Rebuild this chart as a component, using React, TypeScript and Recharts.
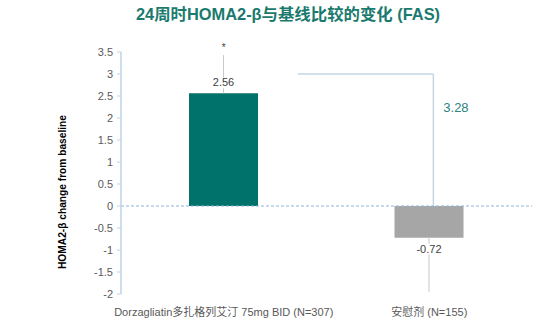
import React from 'react';
import {
  ComposedChart,
  Bar,
  XAxis,
  YAxis,
  ReferenceLine,
  ReferenceDot,
  ErrorBar,
  LabelList,
  Cell,
  Label,
} from 'recharts';

const categories = ['Dorzagliatin多扎格列艾汀 75mg BID (N=307)', '安慰剂 (N=155)'];
const categoryPositions = [0.5, 1.5];
const changes = [2.56, -0.72];
const errorLow = [0, 1.23];
const errorHigh = [0.87, 0];
const barColors = ['#00726C', '#A6A6A6'];
const yTicks = [-2, -1.5, -1, -0.5, 0, 0.5, 1, 1.5, 2, 2.5, 3, 3.5];
const starPositions = [0.5];
const starValues = [3.66];
const bracketLevel = 3.0;
const bracketStart = 0.86;
const bracketEnd = 1.52;
const diffText = '3.28';
const diffPos = [1.63, 2.23];
const titleText = '24周时HOMA2-β与基线比较的变化 (FAS)';
const yLabelText = 'HOMA2-β change from baseline';

const data = categories.map((c, i) => ({
  name: c,
  pos: categoryPositions[i],
  value: changes[i],
  err: [errorLow[i], errorHigh[i]],
}));

const FONT = '"Liberation Sans", Arial, "Noto Sans CJK SC", sans-serif';

const XTick = (props: any) => {
  const { x, y, payload } = props;
  const idx = categoryPositions.indexOf(payload.value);
  return (
    <text x={x} y={y + 22} textAnchor="middle" fontSize={11} fill="#595959" fontFamily={FONT}>
      {idx >= 0 ? categories[idx] : ''}
    </text>
  );
};

const ValueLabel = (props: any) => {
  const { x, y, width, height, value } = props;
  const top = Math.min(y, y + height);
  const bottom = Math.max(y, y + height);
  const cx = x + width / 2;
  const ty = value >= 0 ? top - 7 : bottom + 15;
  const w = String(value).length * 6 + 2;
  return (
    <g>
      <rect x={cx - w / 2} y={ty - 9} width={w} height={11} fill="#fff" />
      <text x={cx} y={ty} textAnchor="middle" fontSize={11} fill="#404040" fontFamily={FONT}>
        {value}
      </text>
    </g>
  );
};

const StarShape = (props: any) => (
  <text x={props.cx} y={props.cy + 6} textAnchor="middle" fontSize={10} fill="#404040" fontFamily={FONT}>
    *
  </text>
);

const YLabel = () => {
  const cx = 62;
  const cy = 192;
  return (
    <text
      x={cx}
      y={cy}
      transform={`rotate(-90 ${cx} ${cy})`}
      textAnchor="middle"
      dominantBaseline="central"
      fontSize={10.2}
      fontWeight="bold"
      fill="#000"
      fontFamily={FONT}
    >
      {yLabelText}
    </text>
  );
};

export default function App() {
  return (
    <div style={{ position: 'absolute', left: 0, top: 0, width: 554, height: 328, background: '#fff' }}>
      <div
        style={{
          position: 'absolute',
          left: 0,
          top: 4,
          width: 576,
          textAlign: 'center',
          fontFamily: FONT,
          fontWeight: 'bold',
          fontSize: 16.4,
          color: '#1B7A6E',
          lineHeight: '20px',
        }}
      >
        {titleText}
      </div>
      <ComposedChart
        width={554}
        height={328}
        data={data}
        margin={{ top: 52, right: 22, bottom: 0, left: 0 }}
      >
        <XAxis
          dataKey="pos"
          type="number"
          domain={[0, 2]}
          ticks={categoryPositions}
          allowDataOverflow
          axisLine={false}
          tickLine={false}
          tickSize={0}
          tickMargin={0}
          tick={<XTick />}
          height={34}
          interval={0}
        />
        <YAxis
          domain={[-2, 3.5]}
          ticks={yTicks}
          width={121}
          interval={0}
          tick={{ fontSize: 11, fill: '#595959', fontFamily: FONT }}
          tickSize={4}
          tickMargin={4}
          axisLine={{ stroke: '#BDD3E8', strokeWidth: 1.5 }}
          tickLine={{ stroke: '#BDD3E8' }}
          allowDataOverflow
        >
          <Label content={<YLabel />} />
        </YAxis>
        <ReferenceLine
          segment={[
            { x: bracketEnd, y: bracketLevel },
            { x: bracketEnd, y: 0 },
          ]}
          stroke="#C5D6E6"
          strokeWidth={1.5}
        />
        <ReferenceLine
          segment={[
            { x: bracketStart, y: bracketLevel },
            { x: bracketEnd, y: bracketLevel },
          ]}
          stroke="#C5D6E6"
          strokeWidth={1.5}
        />
        <Bar dataKey="value" barSize={69} isAnimationActive={false}>
          {data.map((d, i) => (
            <Cell key={i} fill={barColors[i]} />
          ))}
          <ErrorBar dataKey="err" width={0} stroke="#C8C8C8" strokeWidth={1} direction="y" />
          <LabelList dataKey="value" content={<ValueLabel />} />
        </Bar>
        <ReferenceLine y={0} stroke="#8FB4D8" strokeDasharray="3 2" strokeWidth={1} />
        {starPositions.map((p, i) => (
          <ReferenceDot
            key={`star-${i}`}
            x={p}
            y={starValues[i]}
            r={0}
            ifOverflow="visible"
            shape={(sp: any) => <StarShape {...sp} />}
          />
        ))}
        <ReferenceDot
          x={diffPos[0]}
          y={diffPos[1]}
          r={0}
          stroke="none"
          label={{ value: diffText, position: 'center', fontSize: 13, fill: '#2E8280', fontFamily: FONT }}
        />
      </ComposedChart>
    </div>
  );
}
